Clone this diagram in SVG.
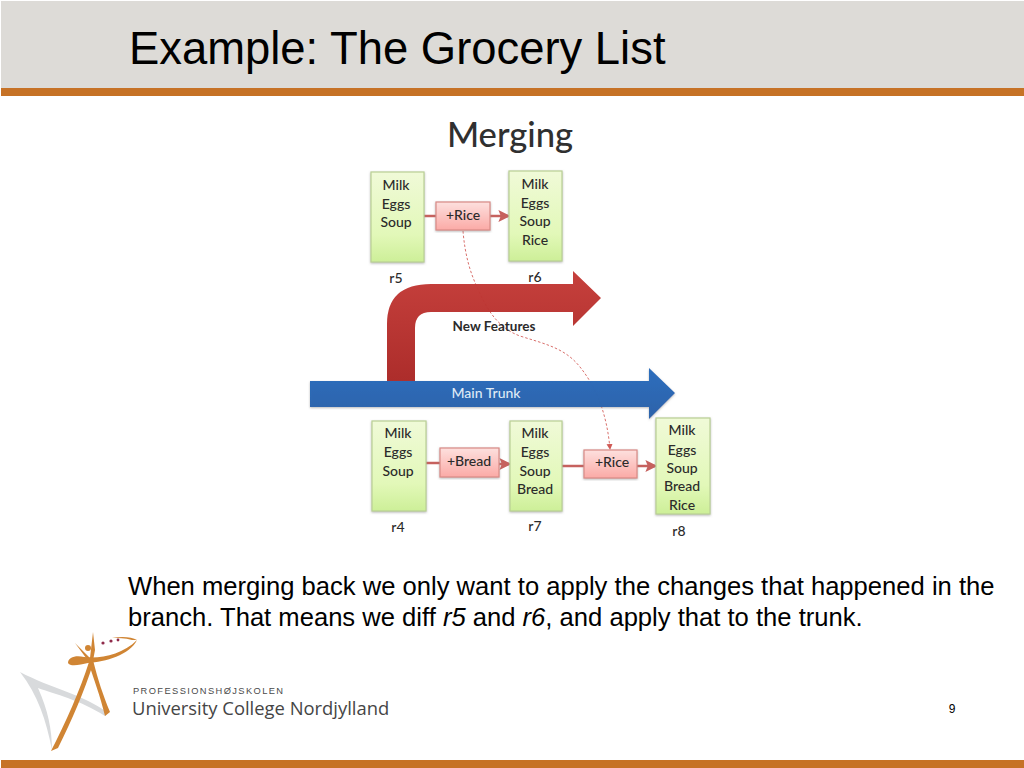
<svg xmlns="http://www.w3.org/2000/svg" width="1024" height="768" viewBox="0 0 1024 768">
<style>
.a{font-family:"Liberation Sans",Arial,sans-serif}
.c{font-family:Lato,"Open Sans",sans-serif;font-size:14px;font-weight:500;fill:#2b2b2b;text-anchor:middle}
.box{fill:url(#g);stroke:#b9cf94;stroke-width:1.2;filter:url(#s)}
.chg{fill:url(#p);stroke:#d98a86;stroke-width:1.2;filter:url(#s)}
.ln{fill:none;stroke:#c0504d;stroke-width:2.4;opacity:.9}
</style>
<defs>
<linearGradient id="g" x1="0" y1="0" x2="0" y2="1"><stop offset="0" stop-color="#f0fad8"/><stop offset=".7" stop-color="#e2f8b8"/><stop offset="1" stop-color="#cdef98"/></linearGradient>
<linearGradient id="p" x1="0" y1="0" x2="0" y2="1"><stop offset="0" stop-color="#fde0de"/><stop offset="1" stop-color="#fbaaa6"/></linearGradient>
<linearGradient id="r" x1="0" y1="0" x2="0" y2="1"><stop offset="0" stop-color="#c43a36"/><stop offset="1" stop-color="#aa2624"/></linearGradient>
<linearGradient id="bl" x1="0" y1="0" x2="0" y2="1"><stop offset="0" stop-color="#256bbd"/><stop offset="1" stop-color="#2660a9"/></linearGradient>
<filter id="s" x="-10%" y="-10%" width="120%" height="120%"><feDropShadow dx="0" dy="1" stdDeviation=".8" flood-color="#888" flood-opacity=".6"/></filter>
<marker id="m" markerWidth="5" markerHeight="5" refX="4" refY="2.5" orient="auto"><path d="M0 0L5 2.5L0 5L1 2.5Z" fill="#c0504d"/></marker>
<marker id="d" markerWidth="7" markerHeight="7" refX="5" refY="3" orient="auto"><path d="M0 0L6 3L0 6Z" fill="#d05a56"/></marker>
</defs>

<g id="header">
<rect x="1" y="1" width="1023" height="87" fill="#dddbd7"/>
<rect x="1" y="88" width="1023" height="8" fill="#c67226"/>
<text class="a" x="129" y="64" font-size="45.4" fill="#000">Example: The Grocery List</text>
</g>
<rect id="footer-bar" x="1" y="760" width="1023" height="8" fill="#c67226"/>

<text class="c" x="510" y="147" style="font-size:34.6px;fill:#303030">Merging</text>

<g id="connectors">
<path class="ln" d="M424 216H437M490 216H508" marker-end="url(#m)"/>
<path class="ln" d="M426 463H441M499 464H509" marker-end="url(#m)"/>
<path class="ln" d="M562 466H585M637 466H655" marker-end="url(#m)"/>
<path d="M463 231C465 255 470 272 477 287C487 310 498 328 520 336C545 344 565 348 580 367C597 388 607 415 610 449" fill="none" stroke="#d9706c" stroke-width="1" stroke-dasharray="2.5 2" marker-end="url(#d)"/>
</g>

<g id="branch-arrow">
<path d="M387 381V324Q387 284 431 284H573V271L601 298L573 326V312H431Q415 312 415 328V381Z" fill="url(#r)" fill-opacity=".97"/>
<text class="c" x="494" y="331" style="font-weight:700;font-size:13.5px">New Features</text>
</g>
<g id="trunk-arrow">
<path d="M310 381H649V368L675 393L649 419V407H310Z" fill="url(#bl)" fill-opacity=".97" filter="url(#s)"/>
<text class="c" x="486" y="398" style="fill:#dfeaf6">Main Trunk</text>
</g>

<g id="r5"><rect class="box" x="371" y="172" width="53" height="90"/>
<text class="c" x="396" y="190">Milk</text><text class="c" x="396" y="209">Eggs</text><text class="c" x="396" y="227">Soup</text><text class="c" x="396" y="283">r5</text></g>
<g id="rice-top"><rect class="chg" x="436" y="202" width="54" height="28"/><text class="c" x="463" y="220">+Rice</text></g>
<g id="r6"><rect class="box" x="509" y="171" width="53" height="90"/>
<text class="c" x="535" y="189">Milk</text><text class="c" x="535" y="208">Eggs</text><text class="c" x="535" y="226">Soup</text><text class="c" x="535" y="245">Rice</text><text class="c" x="535" y="282">r6</text></g>
<g id="r4"><rect class="box" x="372" y="421" width="54" height="90"/>
<text class="c" x="398" y="438">Milk</text><text class="c" x="398" y="457">Eggs</text><text class="c" x="398" y="476">Soup</text><text class="c" x="398" y="532">r4</text></g>
<g id="bread"><rect class="chg" x="440" y="448" width="59" height="29"/><text class="c" x="469" y="466">+Bread</text></g>
<g id="r7"><rect class="box" x="510" y="421" width="52" height="90"/>
<text class="c" x="535" y="438">Milk</text><text class="c" x="535" y="457">Eggs</text><text class="c" x="535" y="476">Soup</text><text class="c" x="535" y="494">Bread</text><text class="c" x="535" y="531">r7</text></g>
<g id="rice-bottom"><rect class="chg" x="584" y="450" width="53" height="28"/><text class="c" x="612" y="467">+Rice</text></g>
<g id="r8"><rect class="box" x="656" y="418" width="54" height="96"/>
<text class="c" x="682" y="435">Milk</text><text class="c" x="682" y="455">Eggs</text><text class="c" x="682" y="473">Soup</text><text class="c" x="682" y="491">Bread</text><text class="c" x="682" y="510">Rice</text><text class="c" x="679" y="536">r8</text></g>

<g id="body" class="a" font-size="25.6" fill="#000">
<text x="128" y="595">When merging back we only want to apply the changes that happened in the</text>
<text x="128" y="626">branch. That means we diff <tspan font-style="italic">r5</tspan> and <tspan font-style="italic">r6</tspan>, and apply that to the trunk.</text>
</g>
<text id="page" class="a" x="952" y="713" font-size="12" text-anchor="middle" fill="#000">9</text>

<g id="logo">
<path d="M20 672C50 688 85 695 108 713L105 716C80 700 55 694 38 688C48 710 52 730 52 750C46 720 38 695 20 672Z" fill="#d8dadc"/>
<path d="M51 751L58 748C72 720 84 692 93 664L89 662C80 690 66 722 51 751Z" fill="#d08534"/>
<path d="M89 664L93 660C98 680 103 695 110 712L105 716C100 695 94 680 89 664Z" fill="#d08534"/>
<path d="M75 643L90 658L93 632L95 650L92 666Z" fill="#d08534"/>
<circle cx="88" cy="648" r="3" fill="#d08534"/>
<path d="M68 663C68 657 76 655 84 657C100 659 122 655 137 640C130 655 105 662 88 663C80 665 70 667 68 663Z" fill="#d08534"/>
<path d="M112 638C122 636 132 637 137 640L132 640C125 638 118 638 112 638Z" fill="#d08534"/>
<g fill="#8f2a4a"><circle cx="103" cy="643" r="1.6"/><circle cx="111" cy="641" r="1.6"/><circle cx="118" cy="640" r="1.4"/></g>
<text class="a" x="133" y="694" font-size="9.3" letter-spacing="1.4" fill="#4a4a4a">PROFESSIONSHØJSKOLEN</text>
<text x="132" y="715" font-family="Open Sans,sans-serif" font-size="18.4" fill="#454545">University College Nordjylland</text>
</g>
</svg>
